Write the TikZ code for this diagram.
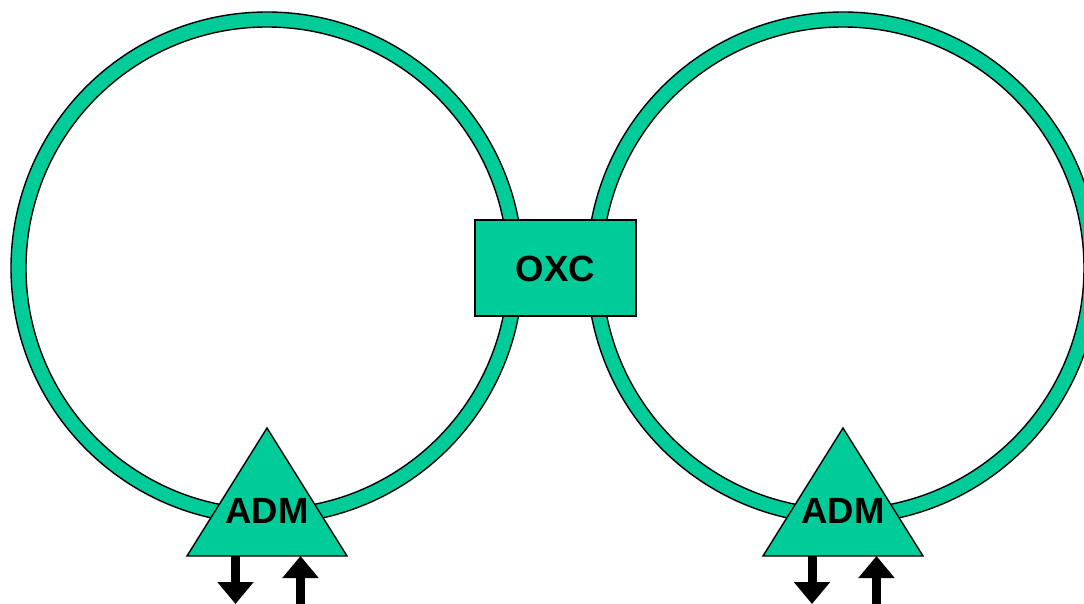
\documentclass[tikz,border=0pt]{standalone}
\usepackage{fontspec}
\setmainfont{Liberation Sans}
\usetikzlibrary{arrows.meta}
\definecolor{ringgreen}{RGB}{0,204,153}
\tikzset{
  ringshape/.style={fill=ringgreen, draw=black, line width=1.4pt, even odd rule},
  boxnode/.style={fill=ringgreen, draw=black, line width=1.4pt},
  lbl/.style={font=\fontsize{36.5}{42}\selectfont\bfseries, text=black, inner sep=0pt},
  blockarrow/.style={line width=9pt, -{Triangle[width=35pt,length=22pt]}}
}
\begin{document}
\begin{tikzpicture}[x=1pt,y=-1pt]
\useasboundingbox (0,0) rectangle (1084,604);
% rings
\path[ringshape] (267,268) circle[radius=256] (267,268) circle[radius=241];
\path[ringshape] (843,268) circle[radius=256] (843,268) circle[radius=241];
% OXC
\draw[boxnode] (475,220) rectangle (636,316);
\node[lbl] (oxc) at (555.5,269) {OXC};
% ADM triangles
\draw[boxnode, line join=miter] (267,428) -- (347,556) -- (187,556) -- cycle;
\node[lbl] (admL) at (267,511) {ADM};
\draw[boxnode, line join=miter] (843,428) -- (923,556) -- (763,556) -- cycle;
\node[lbl] (admR) at (843,511) {ADM};
% arrow endpoints
\coordinate (Ld0) at (235.5,556); \coordinate (Ld1) at (235.5,604);
\coordinate (Lu0) at (300.5,606); \coordinate (Lu1) at (300.5,556);
\coordinate (Rd0) at (812,556); \coordinate (Rd1) at (812,604);
\coordinate (Ru0) at (876.5,606); \coordinate (Ru1) at (876.5,556);
\draw[blockarrow] (Ld0) -- (Ld1);
\draw[blockarrow] (Lu0) -- (Lu1);
\draw[blockarrow] (Rd0) -- (Rd1);
\draw[blockarrow] (Ru0) -- (Ru1);
\end{tikzpicture}
\end{document}
